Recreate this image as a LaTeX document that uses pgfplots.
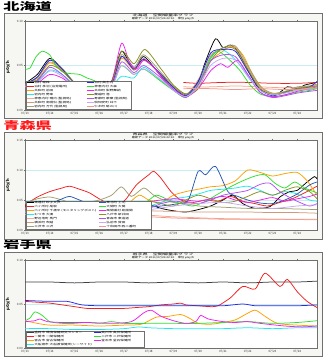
\documentclass[border=0pt]{standalone}
\usepackage{fontspec}
\setmainfont{Noto Sans CJK JP}
\usepackage{graphicx}
\usepackage{pgfplots}
\pgfplotsset{compat=1.18}

\definecolor{c1}{HTML}{000000}
\definecolor{c2}{HTML}{F02020}
\definecolor{c3}{HTML}{FFA000}
\definecolor{c4}{HTML}{20E8F0}
\definecolor{c5}{HTML}{F8A888}
\definecolor{c6}{HTML}{D09878}
\definecolor{c7}{HTML}{A0A070}
\definecolor{c8}{HTML}{2828E8}
\definecolor{c8b}{HTML}{2858B0}
\definecolor{c9}{HTML}{30E030}
\definecolor{c10}{HTML}{F020F0}
\definecolor{c11}{HTML}{889020}
\definecolor{c12}{HTML}{B050F0}
\definecolor{c13}{HTML}{C8A8F0}
\definecolor{c14}{HTML}{F09890}
\definecolor{framebg}{HTML}{F6F6F2}
\definecolor{framedr}{HTML}{707070}
\definecolor{gridc}{HTML}{C8ECF0}
\definecolor{headred}{HTML}{FF1A1A}

\newcommand\lgd[2]{\makebox[#1][l]{\scalebox{1.4}[1]{#2}}}

\pgfplotsset{
 panel/.style={
  scale only axis, width=292bp,
  xmin=0, xmax=11.8, xtick={0,...,11},
  xticklabels={07/13,07/14,07/15,07/16,07/17,07/18,07/19,07/20,07/21,07/22,07/23,07/24},
  axis background/.style={fill=white},
  axis line style={draw=framedr, line width=0.4bp},
  ymajorgrids, grid style={draw=gridc, line width=0.6bp},
  tick style={draw=framedr, line width=0.3bp},
  tick align=outside, major tick length=1.2bp,
  ticklabel style={font=\fontsize{3}{3}\selectfont, inner sep=0.8bp, text=black!80},
  /pgf/number format/assume math mode=true,
  yticklabel style={/pgf/number format/.cd, fixed, fixed zerofill, precision=2},
  every axis plot/.append style={line width=0.75bp, smooth, tension=0.45},
  legend cell align=left,
  transpose legend,
  legend style={at={(0.002,0.006)}, anchor=south west, draw=framedr, fill=white,
    font=\fontsize{2.6}{2.8}\selectfont, inner sep=0.6bp, row sep=0.9bp,
    nodes={inner sep=0.15bp, text height=2.2bp, text depth=0.6bp},
    /tikz/every even column/.append style={column sep=4bp}},
  legend image code/.code={\draw[#1, line width=0.8bp] (0bp,1bp) -- (7bp,1bp);},
 }
}

\begin{document}
\begin{tikzpicture}
\path[use as bounding box, fill=white] (0bp,0bp) rectangle (326bp,-359bp);

% ---------- headings ----------
\node[anchor=north west, inner sep=0, font=\fontsize{10.5}{10.5}\selectfont\bfseries, xscale=1.55] at (3bp,-1.5bp) {北海道};
\node[anchor=north west, inner sep=0, font=\fontsize{10.5}{10.5}\selectfont\bfseries, text=headred, xscale=1.55] at (3bp,-120.5bp) {青森県};
\node[anchor=north west, inner sep=0, font=\fontsize{10.5}{10.5}\selectfont\bfseries, xscale=1.55] at (3bp,-239.5bp) {岩手県};

% ---------- frames ----------
\draw[draw=framedr, fill=framebg, line width=0.6bp] (4bp,-13bp) rectangle (322bp,-118bp);
\draw[draw=framedr, fill=framebg, line width=0.6bp] (4bp,-132bp) rectangle (322bp,-239bp);
\draw[draw=framedr, fill=framebg, line width=0.6bp] (4bp,-252bp) rectangle (322bp,-356bp);

% ---------- titles ----------
\node[font=\fontsize{3}{3}\selectfont, xscale=1.7] at (163bp,-15.6bp) {北海道　空間線量率グラフ};
\node[font=\fontsize{2.5}{2.5}\selectfont, xscale=1.3] at (163bp,-19.2bp) {最新データ 2011/07/24 22:10　単位 μGy/h};
\node[font=\fontsize{3}{3}\selectfont, xscale=1.7] at (163bp,-134.6bp) {青森県　空間線量率グラフ};
\node[font=\fontsize{2.5}{2.5}\selectfont, xscale=1.3] at (163bp,-138.2bp) {最新データ 2011/07/24 22:10　単位 μGy/h};
\node[font=\fontsize{3}{3}\selectfont, xscale=1.7] at (163bp,-254.6bp) {岩手県　空間線量率グラフ};
\node[font=\fontsize{2.5}{2.5}\selectfont, xscale=1.3] at (163bp,-258.2bp) {最新データ 2011/07/24 22:10　単位 μGy/h};

% ---------- y labels ----------
\node[rotate=90, font=\fontsize{4}{4}\selectfont\bfseries] at (8bp,-67bp) {μGy/h};
\node[rotate=90, font=\fontsize{4}{4}\selectfont\bfseries] at (8bp,-185bp) {μGy/h};
\node[rotate=90, font=\fontsize{4}{4}\selectfont\bfseries] at (8bp,-304bp) {μGy/h};

% ================= Panel 1: Hokkaido =================
\begin{axis}[panel, at={(25bp,-110bp)}, anchor=south west, height=89bp,
  ymin=0, ymax=0.10, ytick={0,0.05,0.10}, legend columns=7]
\addplot[c1] coordinates {(0,.030)(0.5,.040)(1,.058)(1.5,.046)(2,.030)(2.5,.022)(3,.020)(3.5,.032)(3.9,.066)(4.4,.045)(4.8,.060)(5.5,.038)(6,.026)(6.5,.017)(7,.032)(7.3,.055)(7.7,.080)(8,.070)(8.3,.073)(8.6,.066)(9,.045)(9.4,.026)(9.8,.019)(10.2,.018)(10.6,.026)(11,.024)(11.3,.028)(11.8,.031)};
\addlegendentry{\lgd{48bp}{泊村~堀株}}
\addplot[c2] coordinates {(6.4,.031)(7,.030)(8,.031)(9,.031)(10,.030)(11,.030)(11.8,.031)};
\addlegendentry{\lgd{48bp}{泊村~茅沼~(泊発電所)}}
\addplot[c3] coordinates {(0,.028)(0.5,.036)(1,.053)(1.5,.044)(2,.030)(2.5,.022)(3,.020)(3.5,.028)(3.9,.058)(4.4,.045)(4.8,.056)(5.5,.040)(6,.026)(6.5,.016)(7,.030)(7.5,.055)(8,.066)(8.4,.072)(8.8,.062)(9.2,.040)(9.6,.024)(10,.018)(10.5,.020)(11,.023)(11.5,.025)(11.8,.027)};
\addlegendentry{\lgd{48bp}{共和町~前田}}
\addplot[c4] coordinates {(0,.027)(0.5,.032)(1,.045)(1.5,.040)(2,.028)(2.5,.020)(3,.019)(3.5,.026)(3.9,.038)(4.4,.036)(4.8,.048)(5.5,.033)(6,.022)(6.5,.015)(7,.030)(7.5,.058)(7.9,.068)(8.3,.062)(8.7,.050)(9.1,.034)(9.5,.022)(10,.017)(10.5,.019)(11,.022)(11.5,.023)(11.8,.025)};
\addlegendentry{\lgd{48bp}{岩内町~野束}}
\addplot[c5] coordinates {(6.4,.026)(7.5,.026)(8.5,.027)(9.5,.026)(10.5,.025)(11.8,.026)};
\addlegendentry{\lgd{48bp}{神恵内村~珊内~(監視局)}}
\addplot[c6] coordinates {(0,.029)(0.5,.036)(1,.054)(1.5,.045)(2,.030)(2.5,.021)(3,.019)(3.5,.028)(3.9,.060)(4.4,.046)(4.8,.058)(5.5,.039)(6,.025)(6.5,.017)(7,.034)(7.5,.062)(8,.068)(8.5,.070)(9,.048)(9.5,.026)(10,.018)(10.5,.020)(11,.025)(11.5,.027)(11.8,.028)};
\addlegendentry{\lgd{48bp}{共和町~南幌似~(監視局)}}
\addplot[c7] coordinates {(0,.030)(0.5,.037)(1,.056)(1.5,.047)(2,.031)(2.5,.022)(3,.020)(3.5,.029)(3.9,.062)(4.4,.048)(4.8,.062)(5.5,.042)(6,.027)(6.5,.018)(7,.030)(7.5,.060)(8,.070)(8.5,.072)(9,.050)(9.5,.027)(10,.019)(10.5,.021)(11,.026)(11.5,.027)(11.8,.029)};
\addlegendentry{\lgd{48bp}{岩内町~万代~(監視局)}}
\addplot[c8] coordinates {(0,.029)(0.5,.037)(1,.056)(1.5,.046)(2,.030)(2.5,.021)(3,.019)(3.5,.029)(3.9,.060)(4.4,.046)(4.8,.057)(5.5,.040)(6,.025)(6.5,.016)(7,.032)(7.5,.064)(8,.068)(8.5,.066)(9,.044)(9.5,.023)(10,.016)(10.5,.020)(11,.024)(11.5,.026)(11.8,.032)};
\addlegendentry{\lgd{36bp}{泊村~興志内}}
\addplot[c9] coordinates {(0,.046)(0.2,.047)(0.45,.060)(0.7,.066)(1.0,.062)(1.2,.052)(1.5,.043)(1.8,.041)(2.2,.040)(2.5,.036)(2.8,.033)(3.2,.026)(3.6,.032)(3.9,.050)(4.4,.040)(4.8,.046)(5.5,.032)(6,.022)(6.5,.014)(7,.028)(7.5,.058)(7.8,.066)(8.2,.058)(8.7,.044)(9.1,.028)(9.5,.018)(10,.015)(10.5,.017)(11,.020)(11.5,.022)(11.8,.024)};
\addlegendentry{\lgd{36bp}{神恵内村~大森}}
\addplot[c10] coordinates {(0,.026)(0.5,.030)(1,.040)(1.5,.036)(2,.026)(2.5,.020)(3,.018)(3.5,.032)(3.9,.075)(4.2,.055)(4.5,.046)(4.8,.056)(5.2,.048)(5.6,.034)(6,.023)(6.5,.015)(7,.024)(7.5,.044)(7.9,.052)(8.2,.048)(8.6,.056)(9,.040)(9.5,.020)(10,.015)(10.5,.017)(11,.021)(11.5,.024)(11.8,.026)};
\addlegendentry{\lgd{36bp}{共和町~梨野舞納}}
\addplot[c11] coordinates {(0,.029)(0.5,.034)(1,.050)(1.5,.044)(2,.030)(2.5,.022)(3,.020)(3.5,.030)(3.9,.066)(4.4,.052)(4.85,.068)(5.5,.046)(6,.028)(6.5,.018)(7,.024)(7.5,.055)(8,.070)(8.5,.068)(9,.046)(9.5,.024)(10,.017)(10.5,.020)(11,.024)(11.5,.026)(11.8,.027)};
\addlegendentry{\lgd{36bp}{蘭越町~港}}
\addplot[c12] coordinates {(0,.027)(0.5,.033)(1,.048)(1.5,.040)(2,.027)(2.5,.020)(3,.018)(3.5,.026)(3.9,.054)(4.4,.042)(4.8,.050)(5.5,.036)(6,.023)(6.5,.014)(7,.028)(7.5,.055)(8,.062)(8.5,.060)(9,.040)(9.5,.020)(10,.014)(10.5,.016)(11,.019)(11.5,.021)(11.8,.022)};
\addlegendentry{\lgd{36bp}{寿都町~歌棄~(監視局)}}
\addplot[c13] coordinates {(0,.026)(0.5,.031)(1,.044)(1.5,.038)(2,.026)(2.5,.019)(3,.018)(3.5,.025)(3.9,.050)(4.4,.040)(4.8,.046)(5.5,.034)(6,.022)(6.5,.015)(7,.026)(7.5,.050)(8,.058)(8.5,.056)(9,.038)(9.5,.022)(10,.017)(10.5,.019)(11,.022)(11.5,.024)(11.8,.025)};
\addlegendentry{\lgd{36bp}{倶知安町~峠下}}
\addplot[c14] coordinates {(6.4,.024)(7.5,.024)(8.5,.023)(9.5,.024)(10.5,.023)(11.8,.024)};
\addlegendentry{\lgd{36bp}{仁木町~砥の川}}
\end{axis}

% ================= Panel 2: Aomori =================
\begin{axis}[panel, at={(25bp,-230bp)}, anchor=south west, height=90bp,
  ymin=0, ymax=0.15, ytick={0,0.05,0.10,0.15}, legend columns=7]
\addplot[c1] coordinates {(0,.040)(1,.044)(2,.046)(3,.042)(4,.040)(4.5,.038)(5,.042)(5.5,.036)(6,.032)(6.5,.030)(7,.034)(7.5,.040)(8,.050)(8.4,.058)(8.8,.044)(9.3,.036)(9.9,.039)(10.3,.055)(10.7,.064)(11,.066)(11.4,.080)(11.7,.089)(11.8,.085)};
\addlegendentry{\lgd{60bp}{東通村~砂子又沢}}
\addplot[c2] coordinates {(0,.042)(0.5,.055)(1,.064)(1.5,.070)(1.8,.073)(2.2,.068)(2.6,.062)(3,.052)(3.5,.042)(4,.048)(4.5,.075)(5,.092)(5.2,.098)(5.5,.086)(5.9,.064)(6.3,.050)(6.8,.046)(7.3,.050)(7.8,.048)(8.3,.056)(8.8,.048)(9.3,.044)(9.8,.040)(10.3,.046)(10.8,.052)(11.3,.062)(11.8,.073)};
\addlegendentry{\lgd{60bp}{六ヶ所村~尾駮}}
\addplot[c3] coordinates {(0,.034)(1,.036)(2,.038)(3,.036)(4,.040)(4.6,.058)(5,.050)(5.5,.046)(6,.058)(6.5,.064)(7,.068)(7.5,.072)(8,.074)(8.5,.082)(9,.100)(9.5,.096)(10,.090)(10.5,.094)(11,.096)(11.4,.082)(11.8,.058)};
\addlegendentry{\lgd{60bp}{六ヶ所村~千歳平~(モニタリングポスト)}}
\addplot[c4] coordinates {(0,.030)(2,.034)(4,.034)(5,.040)(5.5,.046)(6,.052)(6.5,.055)(7,.060)(7.5,.066)(8,.068)(8.5,.070)(9,.073)(9.5,.066)(10,.058)(10.5,.064)(11,.060)(11.5,.050)(11.8,.048)};
\addlegendentry{\lgd{60bp}{むつ市~大湊}}
\addplot[c5] coordinates {(0,.030)(2,.029)(4,.027)(4.9,.025)(6,.022)(8,.019)(10,.018)(11.8,.017)};
\addlegendentry{\lgd{60bp}{野辺地町~馬門}}
\addplot[c6] coordinates {(0,.034)(3,.033)(5,.032)(6,.031)(7,.030)(8,.030)(9,.030)(10,.029)(11,.029)(11.8,.028)};
\addlegendentry{\lgd{60bp}{横浜町~吹越}}
\addplot[c7] coordinates {(0,.045)(0.5,.052)(1,.055)(1.5,.050)(2,.044)(2.5,.046)(3,.050)(3.5,.058)(3.9,.072)(4.3,.056)(4.8,.070)(5.2,.058)(5.6,.050)(6,.046)(6.5,.044)(7,.040)(8,.038)(9,.036)(10,.036)(11,.035)(11.8,.034)};
\addlegendentry{\lgd{60bp}{三沢市~三沢}}
\addplot[c8b] coordinates {(0,.030)(0.8,.040)(1.5,.052)(1.8,.056)(2.2,.050)(2.8,.040)(3.5,.035)(4.5,.036)(5.5,.040)(6.2,.044)(6.6,.050)(7,.098)(7.3,.092)(7.7,.106)(8.2,.064)(8.6,.056)(9,.050)(9.5,.045)(10,.044)(10.5,.050)(11,.060)(11.5,.075)(11.8,.080)};
\addlegendentry{\lgd{44bp}{東北町~上北}}
\addplot[c9] coordinates {(0,.032)(2,.034)(4,.036)(4.8,.044)(5.3,.058)(5.8,.050)(6.3,.044)(6.8,.040)(7.3,.048)(7.8,.060)(8.3,.072)(8.8,.082)(9.3,.090)(9.7,.092)(10.1,.078)(10.5,.070)(10.9,.080)(11.3,.070)(11.8,.062)};
\addlegendentry{\lgd{44bp}{大間町~大間}}
\addplot[c10] coordinates {(0,.034)(2,.036)(4,.038)(4.8,.046)(5.5,.050)(6,.052)(6.5,.050)(7,.048)(7.5,.052)(8,.056)(8.5,.050)(9,.046)(9.5,.050)(10,.054)(10.5,.048)(11,.052)(11.5,.056)(11.8,.060)};
\addlegendentry{\lgd{44bp}{風間浦村~易国間}}
\addplot[c11] coordinates {(0,.036)(3,.038)(4.5,.044)(5,.048)(5.5,.044)(6,.040)(6.5,.050)(7,.058)(7.5,.052)(8,.046)(8.5,.048)(9,.056)(9.5,.064)(10,.058)(10.5,.066)(11,.072)(11.5,.064)(11.8,.052)};
\addlegendentry{\lgd{44bp}{八戸市~新井田}}
\addplot[c12] coordinates {(0,.032)(3,.034)(5,.038)(5.5,.044)(6,.048)(6.5,.046)(7,.044)(7.5,.050)(8,.058)(8.5,.062)(9,.066)(9.5,.076)(9.9,.078)(10.3,.064)(10.7,.054)(11.1,.046)(11.5,.040)(11.8,.044)};
\addlegendentry{\lgd{44bp}{青森市~東造道}}
\addplot[c13] coordinates {(0,.030)(3,.031)(5,.034)(6,.040)(7,.044)(8,.046)(9,.040)(10,.036)(11,.040)(11.8,.042)};
\addlegendentry{\lgd{44bp}{弘前市~賀田}}
\addplot[c14] coordinates {(0,.026)(3,.024)(5,.022)(6,.020)(7,.019)(8,.018)(9,.018)(10,.018)(11,.018)(11.8,.018)};
\addlegendentry{\lgd{44bp}{十和田市~西二番町}}
\end{axis}

% ================= Panel 3: Iwate =================
\begin{axis}[panel, at={(25bp,-348bp)}, anchor=south west, height=88bp,
  ymin=0, ymax=0.10, ytick={0,0.05,0.10}, legend columns=4]
\addplot[c1!75] coordinates {(0,.075)(1,.075)(2,.074)(3,.075)(4,.075)(5,.074)(6,.075)(7,.074)(8,.075)(9,.074)(10,.075)(11,.075)(11.8,.076)};
\addlegendentry{\lgd{55bp}{盛岡市~環境保健研究センター}}
\addplot[c2] coordinates {(0,.053)(0.5,.052)(1,.051)(1.5,.049)(2,.047)(2.5,.045)(3,.045)(4,.045)(4.5,.046)(5,.047)(5.5,.049)(6,.050)(6.3,.051)(6.5,.049)(7,.048)(7.5,.047)(7.8,.048)(8.3,.057)(8.8,.070)(9.3,.067)(9.7,.085)(10.3,.070)(10.6,.078)(11,.064)(11.4,.053)(11.8,.046)};
\addlegendentry{\lgd{55bp}{一関市~一関保健所}}
\addplot[c3] coordinates {(0,.031)(0.5,.028)(1,.026)(2,.026)(3,.025)(4,.026)(4.7,.027)(5.3,.035)(5.8,.036)(6.3,.038)(6.7,.033)(7,.028)(7.5,.027)(8,.029)(8.5,.032)(8.9,.038)(9.3,.043)(9.7,.036)(10.2,.028)(11,.026)(11.8,.025)};
\addlegendentry{\lgd{55bp}{宮古市~宮古保健所}}
\addplot[c4] coordinates {(0,.022)(1,.022)(2,.021)(3,.021)(4,.022)(4.6,.024)(5,.023)(6,.022)(7,.022)(8,.022)(9,.023)(10,.022)(11,.023)(11.8,.023)};
\addlegendentry{\lgd{55bp}{大船渡市~大船渡保健所(シーサイド)}}
\addplot[c8] coordinates {(0,.054)(1,.053)(1.7,.053)(2.3,.049)(3,.048)(4,.048)(5,.048)(6,.048)(7,.048)(8,.048)(8.8,.050)(9.3,.048)(10,.048)(11,.048)(11.8,.049)};
\addlegendentry{\lgd{42bp}{奥州市~奥州保健所}}
\addplot[c9] coordinates {(0,.031)(0.2,.034)(0.4,.041)(0.7,.037)(1,.030)(1.5,.028)(2,.028)(2.5,.029)(3,.028)(3.5,.030)(4,.028)(5,.028)(6,.028)(7,.028)(8,.029)(9,.030)(10,.028)(11,.029)(11.8,.031)};
\addlegendentry{\lgd{42bp}{二戸市~二戸保健所}}
\addplot[c10] coordinates {(0,.030)(0.4,.031)(0.6,.033)(0.9,.030)(1.5,.029)(2.5,.029)(3.5,.028)(4.3,.030)(4.8,.040)(5.1,.043)(5.5,.036)(6,.031)(6.5,.028)(6.9,.030)(7.1,.037)(7.4,.033)(8,.030)(8.5,.029)(9,.030)(9.5,.028)(10.5,.025)(11.2,.024)(11.8,.025)};
\addlegendentry{\lgd{42bp}{釜石市~釜石保健所}}
\end{axis}
\end{tikzpicture}
\end{document}
